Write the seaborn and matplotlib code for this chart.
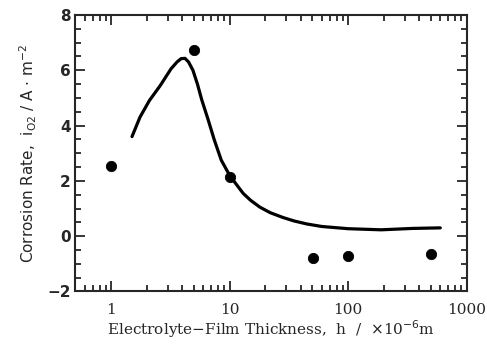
import numpy as np
import pandas as pd
import matplotlib
matplotlib.use("Agg")
import matplotlib.pyplot as plt
import seaborn as sns
from matplotlib.ticker import LogLocator, MultipleLocator, FixedLocator, FixedFormatter

# measured points
pt_h = [1.0, 5.0, 10.0, 51.0, 100.0, 500.0]
pt_i = [2.55, 6.72, 2.15, -0.8, -0.7, -0.65]

# fitted curve
curve_h = [1.5, 1.75, 2.1, 2.6, 3.2, 3.6, 3.9, 4.2, 4.5, 4.9, 5.35, 5.8, 6.6, 7.4,
           8.5, 10, 11.5, 13, 15, 18, 22, 28, 35, 45, 60, 100, 190, 350, 600]
curve_i = [3.6, 4.3, 4.9, 5.45, 6.05, 6.3, 6.42, 6.43, 6.3, 6.0, 5.5, 4.95, 4.2, 3.5,
           2.75, 2.2, 1.85, 1.55, 1.3, 1.05, 0.85, 0.68, 0.55, 0.44, 0.35, 0.27, 0.23, 0.28, 0.3]

xticks = [1, 10, 100, 1000]
xtick_labels = ["1", "10", "100", "1000"]
yticks = [-2, 0, 2, 4, 6, 8]

sns.set_style("ticks")
plt.rcParams['font.family'] = ['DejaVu Sans']

fig, ax = plt.subplots(figsize=(4.87, 3.47), dpi=100)
fig.subplots_adjust(left=0.155, right=0.958, top=0.957, bottom=0.16)

sns.lineplot(x=curve_h, y=curve_i, ax=ax, color="black", lw=2.3, sort=False)
sns.scatterplot(x=pt_h, y=pt_i, ax=ax, color="black", s=55, edgecolor="black")

ax.set_xscale("log")
ax.set_xlim(0.5, 1000)
ax.set_ylim(-2, 8)

ax.xaxis.set_major_locator(FixedLocator(xticks))
ax.xaxis.set_major_formatter(FixedFormatter(xtick_labels))
ax.xaxis.set_minor_locator(LogLocator(base=10, subs=np.arange(2, 10)))
ax.yaxis.set_major_locator(MultipleLocator(2))
ax.yaxis.set_minor_locator(MultipleLocator(0.5))
ax.set_yticks(yticks)

ax.tick_params(which="both", direction="in", top=True, right=True, width=1.3)
ax.tick_params(which="major", length=7)
ax.tick_params(which="minor", length=4)
ax.tick_params(axis="x", which="major", pad=8)

for lab in ax.get_xticklabels():
    lab.set_family("DejaVu Serif")
    lab.set_fontsize(11)
for lab in ax.get_yticklabels():
    lab.set_fontweight("bold")
    lab.set_fontsize(11)

for sp in ax.spines.values():
    sp.set_linewidth(1.5)

ax.set_xlabel(r"Electrolyte$-$Film Thickness,  h  /  $\times$10$^{-6}$m",
              family="DejaVu Serif", fontsize=11, labelpad=1)
ax.set_ylabel(r"Corrosion Rate,  i$_{\mathrm{O2}}$ / A $\cdot$ m$^{-2}$",
              fontsize=11, labelpad=6)

fig.savefig("out.png", dpi=100)
